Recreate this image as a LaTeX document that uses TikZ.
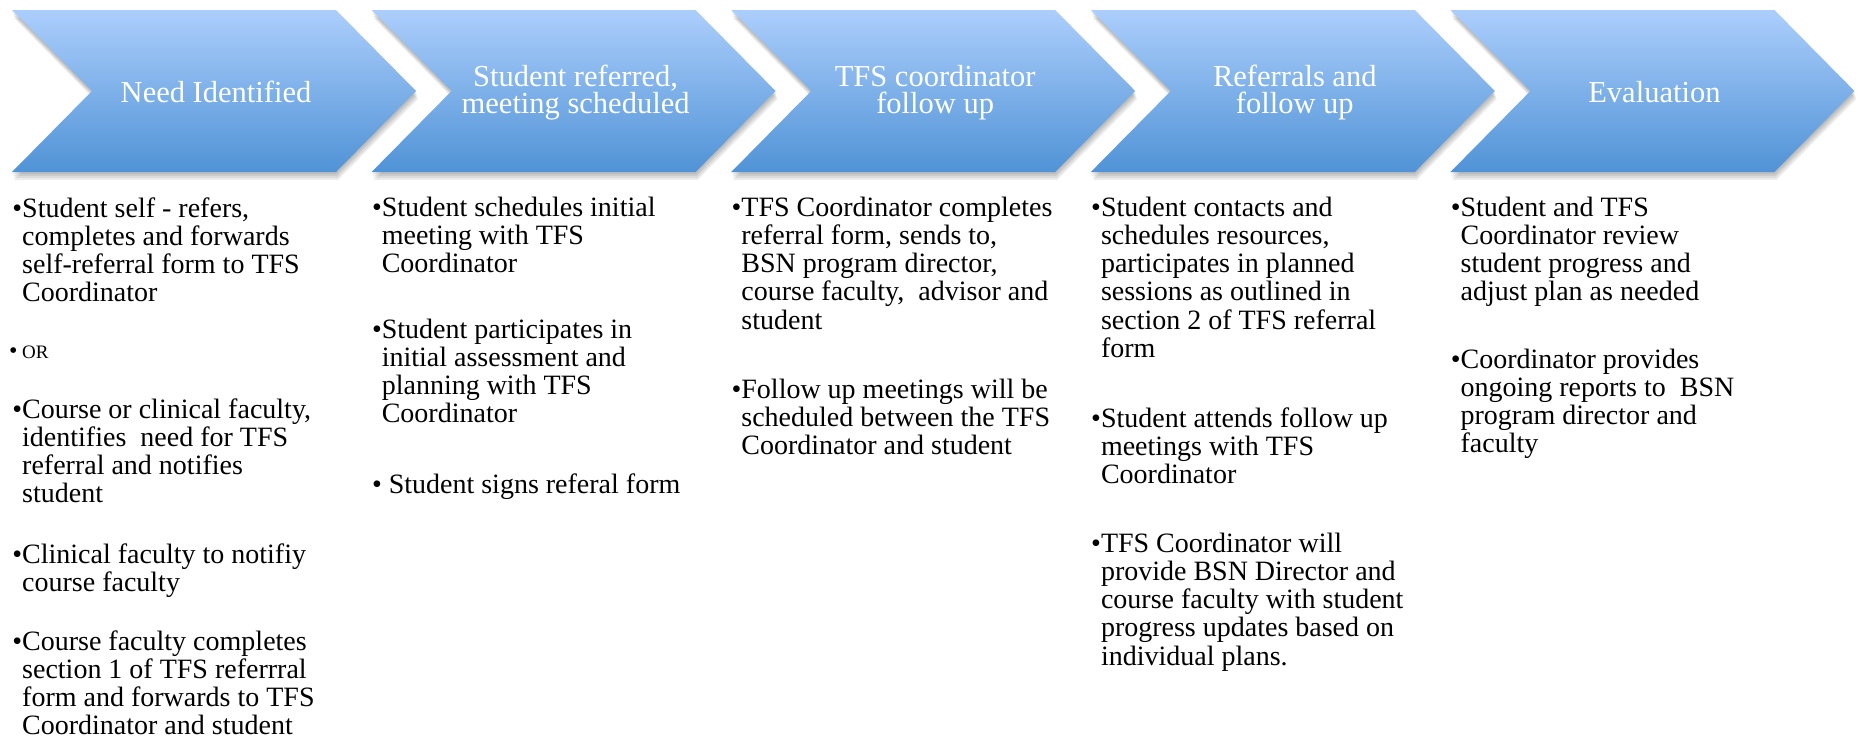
\documentclass[tikz,border=0pt]{standalone}
\usepackage{fontspec}
\setmainfont{Liberation Serif}
\definecolor{ctop}{RGB}{172,206,252}
\definecolor{cbot}{RGB}{80,147,214}
\newcommand{\bodyfont}{\fontsize{28}{28.3}\selectfont}
\newcommand{\headfont}{\fontsize{30.5}{27}\selectfont}
\newcommand{\bitem}[1]{\hbox{\llap{\textbullet}#1}}
\newcommand{\ctrline}[1]{\hbox to 0pt{\hss#1\hss}}
\begin{document}
\begin{tikzpicture}[x=1pt,y=-1pt,
  body/.style={anchor=base west, inner sep=0pt, font=\bodyfont, text=black},
  head/.style={anchor=base, inner sep=0pt, font=\headfont, text=white},
  chev/.style={top color=ctop, bottom color=cbot, draw=none},
  shad/.style={fill=black, opacity=0.07, draw=none}]
\useasboundingbox[fill=white] (0,0) rectangle (1859,742);
% chevrons
\foreach \i in {0,...,4} {
  \pgfmathsetmacro\L{12+359.6*\i}
  \begin{scope}[shift={(\L,0)}]
    \foreach \dx/\dy in {0.5/2,1/4,1.5/6,2/8}
      \fill[shad, shift={(\dx,\dy)}] (0,10) -- (324,10) -- (404,91) -- (324,172) -- (0,172) -- (80,91) -- cycle;
    \path[chev] (0,10) -- (324,10) -- (404,91) -- (324,172) -- (0,172) -- (80,91) -- cycle;
  \end{scope}
}
% headings
\node[head] (h1) at (216,102) {Need Identified};
\node[head] (h2) at (575.6,86) {\vtop{\ctrline{Student referred,}\ctrline{meeting scheduled}}};
\node[head] (h3) at (935.2,86) {\vtop{\ctrline{TFS coordinator}\ctrline{follow up}}};
\node[head] (h4) at (1294.8,86) {\vtop{\ctrline{Referrals and}\ctrline{follow up}}};
\node[head] (h5) at (1654.4,102) {Evaluation};
% column 1
\node[body] (c1p1) at (22,217) {\vtop{\bitem{Student self - refers,}\hbox{completes and forwards}\hbox{self-referral form to TFS}\hbox{Coordinator}}};
\node[body] (c1p2) at (22,358) {\llap{{\fontsize{24}{24}\selectfont\textbullet}\,}{\fontsize{19}{20}\selectfont OR}};
\node[body] (c1p3) at (22,418) {\vtop{\bitem{Course or clinical faculty,}\hbox{identifies\ \ need for TFS}\hbox{referral and notifies}\hbox{student}}};
\node[body] (c1p4) at (22,563) {\vtop{\bitem{Clinical faculty to notifiy}\hbox{course faculty}}};
\node[body] (c1p5) at (22,650) {\vtop{\bitem{Course faculty completes}\hbox{section 1 of TFS referrral}\hbox{form and forwards to TFS}\hbox{Coordinator and student}}};
% column 2
\node[body] (c2p1) at (381.6,216) {\vtop{\bitem{Student schedules initial}\hbox{meeting with TFS}\hbox{Coordinator}}};
\node[body] (c2p2) at (381.6,338) {\vtop{\bitem{Student participates in}\hbox{initial assessment and}\hbox{planning with TFS}\hbox{Coordinator}}};
\node[body] (c2p3) at (381.6,493) {\vtop{\bitem{\ Student signs referal form}}};
% column 3
\node[body] (c3p1) at (741.2,216) {\vtop{\bitem{TFS Coordinator completes}\hbox{referral form, sends to,}\hbox{BSN program director,}\hbox{course faculty,\ \ advisor and}\hbox{student}}};
\node[body] (c3p2) at (741.2,398) {\vtop{\bitem{Follow up meetings will be}\hbox{scheduled between the TFS}\hbox{Coordinator and student}}};
% column 4
\node[body] (c4p1) at (1100.8,216) {\vtop{\bitem{Student contacts and}\hbox{schedules resources,}\hbox{participates in planned}\hbox{sessions as outlined in}\hbox{section 2 of TFS referral}\hbox{form}}};
\node[body] (c4p2) at (1100.8,427) {\vtop{\bitem{Student attends follow up}\hbox{meetings with TFS}\hbox{Coordinator}}};
\node[body] (c4p3) at (1100.8,552) {\vtop{\bitem{TFS Coordinator will}\hbox{provide BSN Director and}\hbox{course faculty with student}\hbox{progress updates based on}\hbox{individual plans.}}};
% column 5
\node[body] (c5p1) at (1460.4,216) {\vtop{\bitem{Student and TFS}\hbox{Coordinator review}\hbox{student progress and}\hbox{adjust plan as needed}}};
\node[body] (c5p2) at (1460.4,368) {\vtop{\bitem{Coordinator provides}\hbox{ongoing reports to\ \ BSN}\hbox{program director and}\hbox{faculty}}};
\end{tikzpicture}
\end{document}
